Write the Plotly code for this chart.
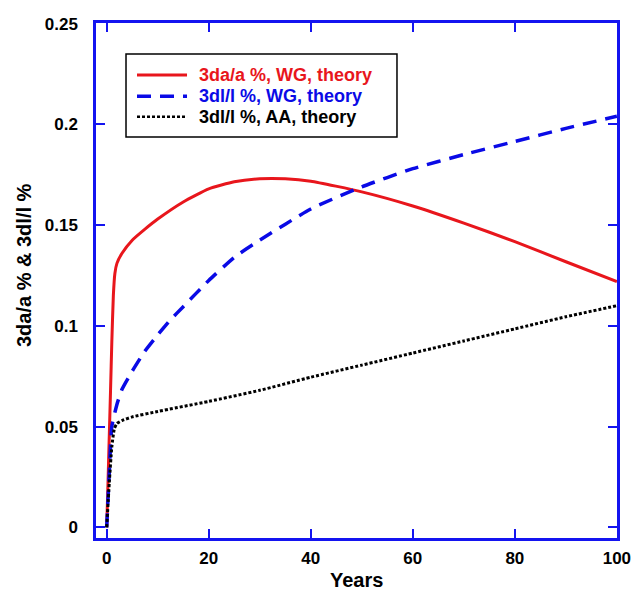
import plotly.graph_objects as go

# ---- data ----
red_x = [0, 0.25, 0.5, 0.75, 1, 1.3, 1.6, 2, 3, 5, 7.5, 10, 15, 20, 25, 30, 35, 40, 50, 60, 70, 80, 90, 100]
red_y = [0, 0.022, 0.045, 0.068, 0.092, 0.115, 0.126, 0.131, 0.136, 0.1425, 0.148, 0.153, 0.1615, 0.168,
         0.1715, 0.173, 0.173, 0.1718, 0.1665, 0.1595, 0.151, 0.1418, 0.1318, 0.122]

blue_x = [0, 0.5, 1, 2, 3, 5, 7.5, 10, 12.5, 15, 20, 25, 30, 40, 50, 60, 70, 80, 90, 100]
blue_y = [0, 0.027, 0.05, 0.061, 0.0685, 0.0775, 0.0875, 0.0955, 0.103, 0.1095, 0.1225, 0.134, 0.1425,
          0.158, 0.169, 0.178, 0.185, 0.1915, 0.198, 0.204]

black_x = [0, 0.5, 1, 1.5, 2, 3, 5, 10, 20, 30, 40, 50, 60, 70, 80, 90, 100]
black_y = [0, 0.022, 0.04, 0.049, 0.0515, 0.053, 0.0548, 0.0575, 0.0625, 0.068, 0.0745, 0.0805,
           0.0865, 0.0925, 0.0985, 0.1045, 0.110]

names = ["3da/a %, WG, theory", "3dl/l %, WG, theory", "3dl/l %, AA, theory"]
colors = ["#e8161c", "#0a0ae6", "#000000"]
dashes = ["solid", "14px,9px", "3px,2px"]
widths = [3, 3.5, 3]

x_ticks = [0, 20, 40, 60, 80, 100]
y_ticks = [0, 0.05, 0.1, 0.15, 0.2, 0.25]
y_ticktext = ["0", "0.05", "0.1", "0.15", "0.2", "0.25"]

x_title = "Years"
y_title = "3da/a % &amp; 3dl/l %"

FONT = "Liberation Sans, Arial, Helvetica, sans-serif"
FRAME = "#1414f0"

fig = go.Figure()
for xs, ys, nm, c, d, w in zip([red_x, blue_x, black_x], [red_y, blue_y, black_y],
                                names, colors, dashes, widths):
    fig.add_trace(go.Scatter(x=xs, y=ys, mode="lines", name=nm,
                             line=dict(color=c, width=w, dash=d, shape="spline", smoothing=0.5),
                             showlegend=False))

# ---- manual legend box ----
lx0, lx1, ly0, ly1 = 0.0576, 0.5777, 0.7786, 0.9398
fig.add_shape(type="rect", xref="paper", yref="paper", x0=lx0, x1=lx1, y0=ly0, y1=ly1,
              line=dict(color="#000000", width=1.5), fillcolor="white", layer="above")
rows = [0.899, 0.858, 0.818]
for nm, c, d, w, ry in zip(names, colors, dashes, widths, rows):
    fig.add_shape(type="line", xref="paper", yref="paper", x0=0.0787, x1=0.1747, y0=ry, y1=ry,
                  line=dict(color=c, width=w if d != "3px,2px" else 2.5, dash=d), layer="above")
    fig.add_annotation(xref="paper", yref="paper", x=0.1939, y=ry, xanchor="left", yanchor="middle",
                       text=nm, showarrow=False,
                       font=dict(family=FONT, size=18, color=c, weight="bold"))

# ---- axis titles as annotations (exact placement) ----
fig.add_annotation(xref="paper", yref="paper", x=0.5, y=0, yshift=-42, xanchor="center",
                   yanchor="middle", text=x_title, showarrow=False,
                   font=dict(family=FONT, size=20, color="#000000", weight="bold"))
fig.add_annotation(xref="paper", yref="paper", x=0, y=0.53, xshift=-72, xanchor="center",
                   yanchor="middle", text=y_title, textangle=-90, showarrow=False,
                   font=dict(family=FONT, size=20, color="#000000", weight="bold"))

axis_common = dict(showline=True, linecolor=FRAME, linewidth=2.5, mirror="ticks",
                   ticks="inside", ticklen=9, tickwidth=2, tickcolor=FRAME,
                   showgrid=False, zeroline=False, automargin=False,
                   tickfont=dict(family=FONT, size=17, color="#000000", weight="bold"))

fig.update_xaxes(range=[-2.1, 100.02], tickvals=x_ticks, ticklabelstandoff=3, **axis_common)
fig.update_yaxes(range=[-0.0053, 0.2503], tickvals=y_ticks, ticktext=y_ticktext,
                 ticklabelstandoff=12, **axis_common)

# page body has an 8px margin, so the figure is 8px smaller and margins shifted
fig.update_layout(width=635, height=583, margin=dict(l=88, r=26, t=15, b=53),
                  paper_bgcolor="white", plot_bgcolor="white", showlegend=False)

fig.write_html("out.html")
